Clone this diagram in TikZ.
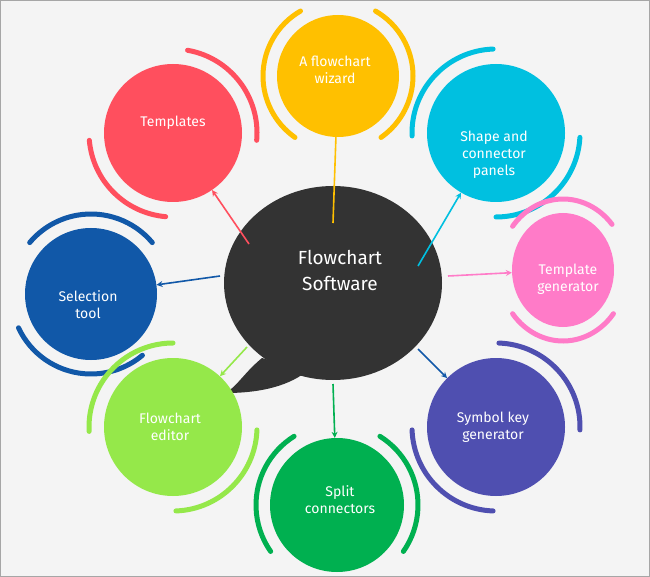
\documentclass[tikz,border=0pt]{standalone}
\usepackage{fontspec}
\setmainfont{Fira Sans}
\usetikzlibrary{arrows.meta,shapes.geometric}
\definecolor{cred}{HTML}{FF4F5E}
\definecolor{cyel}{HTML}{FFC000}
\definecolor{ccya}{HTML}{00C0E0}
\definecolor{cpin}{HTML}{FF7BC8}
\definecolor{cblu}{HTML}{1158A8}
\definecolor{clgr}{HTML}{95E84A}
\definecolor{cgrn}{HTML}{00B050}
\definecolor{cpur}{HTML}{4F4FB0}
\definecolor{cdar}{HTML}{333333}
\definecolor{cbg}{HTML}{F4F4F4}
\tikzset{
  bub/.style={ellipse,inner sep=0pt,align=center,text=white,font=\fontsize{14}{17}\selectfont},
  ring/.style={line width=5pt,line cap=round},
  con/.style={line width=1.6pt,-{Stealth[length=6pt,width=6pt]}}
}
\newcommand{\twoarcs}[7]{% node, color, rx, ry, a1, a2, offset b1 b2 in #7 as {b1}{b2}
}
\begin{document}
\begin{tikzpicture}[x=1pt,y=1pt]
\useasboundingbox (0,0) rectangle (650,-577);
\fill[cbg] (0,0) rectangle (650,-577);
\draw[gray!70,line width=1pt] (0.5,-0.5) rectangle (649.5,-576.5);

% central bubble
\fill[cdar] (262,-358) .. controls (245,-372) and (238,-385) .. (226,-393)
  .. controls (255,-393) and (285,-388) .. (306,-372) -- cycle;
\node[ellipse,fill=cdar,minimum width=218pt,minimum height=194pt,inner sep=0pt] (hub) at (333,-283) {};
\node[align=center,text=white,font=\fontsize{19}{26}\selectfont] (hubt) at (340,-270) {Flowchart\\Software};

% satellites
\node[bub,fill=cred,minimum width=138pt,minimum height=138pt] (tpl) at (173,-133) {};
\node[text=white,font=\fontsize{14}{17}\selectfont] (tplt) at (173,-123) {Templates};
\node[bub,fill=cyel,minimum width=122pt,minimum height=122pt] (wiz) at (338,-76) {};
\node[align=center,text=white,font=\fontsize{14}{17}\selectfont] (wizt) at (335,-70) {A flowchart\\wizard};
\node[bub,fill=ccya,minimum width=138pt,minimum height=138pt] (shp) at (496,-133) {};
\node[align=center,text=white,font=\fontsize{14}{17}\selectfont] (shpt) at (494,-155) {Shape and\\connector\\panels};
\node[bub,fill=cpin,minimum width=102pt,minimum height=114pt] (tgn) at (563,-270) {};
\node[align=center,text=white,font=\fontsize{14}{17}\selectfont] (tgnt) at (568,-279) {Template\\generator};
\node[bub,fill=cblu,minimum width=132pt,minimum height=132pt] (sel) at (91,-294) {};
\node[align=center,text=white,font=\fontsize{14}{17}\selectfont] (selt) at (88,-305) {Selection\\tool};
\node[bub,fill=clgr,minimum width=138pt,minimum height=138pt] (edt) at (173,-427) {};
\node[align=center,text=white,font=\fontsize{14}{17}\selectfont] (edtt) at (170,-427) {Flowchart\\editor};
\node[bub,fill=cgrn,minimum width=134pt,minimum height=134pt] (spl) at (337,-505) {};
\node[align=center,text=white,font=\fontsize{14}{17}\selectfont] (splt) at (340,-500) {Split\\connectors};
\node[bub,fill=cpur,minimum width=138pt,minimum height=138pt] (sym) at (496,-427) {};
\node[align=center,text=white,font=\fontsize{14}{17}\selectfont] (symt) at (493,-427) {Symbol key\\generator};

% rings
\draw[ring,cred] (tpl.center) ++(80:84) arc[start angle=80,end angle=-5,radius=84];
\draw[ring,cred] (tpl.center) ++(185:84) arc[start angle=185,end angle=265,radius=84];
\draw[ring,cyel] (wiz.center) ++(120:75) arc[start angle=120,end angle=235,radius=75];
\draw[ring,cyel] (wiz.center) ++(60:75) arc[start angle=60,end angle=-55,radius=75];
\draw[ring,ccya] (shp.center) ++(92:84) arc[start angle=92,end angle=182,radius=84];
\draw[ring,ccya] (shp.center) ++(-3:84) arc[start angle=-3,end angle=-90,radius=84];
\draw[ring,cpin] (tgn.center) ++(40:64 and 71) arc[start angle=40,end angle=142,x radius=64,y radius=71];
\draw[ring,cpin] (tgn.center) ++(218:64 and 71) arc[start angle=218,end angle=322,x radius=64,y radius=71];
\draw[ring,cblu] (sel.center) ++(40:80) arc[start angle=40,end angle=140,radius=80];
\draw[ring,cblu] (sel.center) ++(205:80) arc[start angle=205,end angle=310,radius=80];
\draw[ring,clgr] (edt.center) ++(90:84) arc[start angle=90,end angle=183,radius=84];
\draw[ring,clgr] (edt.center) ++(-2:84) arc[start angle=-2,end angle=-88,radius=84];
\draw[ring,cgrn] (spl.center) ++(122:81) arc[start angle=122,end angle=215,radius=81];
\draw[ring,cgrn] (spl.center) ++(58:81) arc[start angle=58,end angle=-35,radius=81];
\draw[ring,cpur] (sym.center) ++(88:84) arc[start angle=88,end angle=-2,radius=84];
\draw[ring,cpur] (sym.center) ++(182:84) arc[start angle=182,end angle=268,radius=84];

% connectors
\coordinate (hR) at (249,-244);
\coordinate (hY) at (333,-223);
\coordinate (hC) at (418,-266);
\coordinate (hP) at (448,-276);
\coordinate (hB) at (220,-276);
\coordinate (hL) at (247,-347);
\coordinate (hG) at (333,-384);
\coordinate (hU) at (418,-349);
\draw[con,cred] (hR) -- (tpl);
\draw[line width=1.6pt,cyel] (hY) -- (wiz);
\draw[con,ccya] (hC) -- (shp);
\draw[con,cpin] (hP) -- (tgn);
\draw[con,cblu] (hB) -- (sel);
\draw[con,clgr] (hL) -- (edt);
\draw[con,cgrn] (hG) -- (spl);
\draw[con,cblu] (hU) -- (sym);
\end{tikzpicture}
\end{document}
